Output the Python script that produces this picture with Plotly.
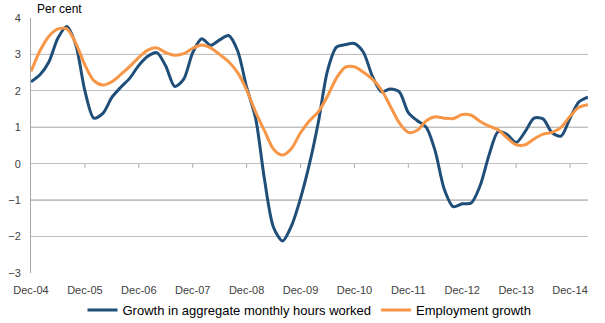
import plotly.graph_objects as go

# Months since Dec-2004 (bimonthly readings)
months = list(range(0, 125, 2))

hours_growth = [2.25, 2.44, 2.80, 3.45, 3.77, 3.25, 2.00, 1.25, 1.38, 1.82,
                2.10, 2.35, 2.70, 2.95, 3.05, 2.68, 2.12, 2.32, 3.05, 3.43,
                3.25, 3.40, 3.52, 3.10, 2.10, 1.25, -0.45, -1.75, -2.12, -1.70,
                -0.95, 0.00, 1.16, 2.55, 3.20, 3.27, 3.30, 3.06, 2.40, 1.98,
                2.05, 1.97, 1.40, 1.18, 1.00, 0.34, -0.70, -1.18, -1.10, -1.08,
                -0.60, 0.25, 0.88, 0.80, 0.58, 0.88, 1.25, 1.23, 0.85, 0.76,
                1.25, 1.70, 1.83]

employment_growth = [2.53, 3.10, 3.50, 3.70, 3.70, 3.30, 2.71, 2.28, 2.16, 2.25,
                     2.45, 2.67, 2.92, 3.12, 3.18, 3.05, 2.98, 3.02, 3.17, 3.26,
                     3.18, 3.00, 2.80, 2.50, 2.03, 1.42, 0.90, 0.40, 0.24, 0.42,
                     0.85, 1.18, 1.43, 1.85, 2.35, 2.65, 2.66, 2.51, 2.32, 2.03,
                     1.58, 1.12, 0.86, 0.92, 1.18, 1.29, 1.25, 1.24, 1.35, 1.33,
                     1.16, 1.03, 0.93, 0.71, 0.52, 0.52, 0.68, 0.81, 0.86, 1.00,
                     1.30, 1.55, 1.62]

tick_months = list(range(0, 121, 12))
tick_labels = ["Dec-04", "Dec-05", "Dec-06", "Dec-07", "Dec-08", "Dec-09",
               "Dec-10", "Dec-11", "Dec-12", "Dec-13", "Dec-14"]
y_ticks = [-3, -2, -1, 0, 1, 2, 3, 4]
dark_grid = [3, 1, -1]

FONT = "Liberation Sans"

fig = go.Figure()
fig.add_trace(go.Scatter(x=months, y=hours_growth, mode="lines",
                         name="Growth in aggregate monthly hours worked",
                         line=dict(color="#1F4E79", width=3, shape="spline", smoothing=0.8)))
fig.add_trace(go.Scatter(x=months, y=employment_growth, mode="lines",
                         name="Employment growth",
                         line=dict(color="#F79646", width=3, shape="spline", smoothing=0.8)))

shapes = []
for g in dark_grid:
    shapes.append(dict(type="line", xref="paper", yref="y", x0=0, x1=1, y0=g, y1=g,
                       line=dict(color="#808080", width=1), layer="below"))
for t in tick_months[1:]:
    shapes.append(dict(type="line", xref="x", yref="y", ysizemode="pixel", yanchor=0,
                       x0=t, x1=t, y0=0, y1=-4, line=dict(color="#A6A6A6", width=1),
                       layer="below"))

fig.update_layout(
    width=605, height=323,
    margin=dict(l=31, r=17, t=18, b=50, autoexpand=False),
    paper_bgcolor="white", plot_bgcolor="white",
    font=dict(family=FONT, size=11, color="#404040"),
    showlegend=True,
    legend=dict(orientation="h", x=0.5, xanchor="center", y=-0.145, yanchor="middle",
                font=dict(family=FONT, size=13, color="#000000"),
                itemwidth=30, tracegroupgap=0),
    shapes=shapes,
    annotations=[dict(text="Per cent", xref="paper", yref="paper", x=0.0, y=1.0,
                      xanchor="left", yanchor="bottom", showarrow=False, xshift=4,
                      font=dict(family=FONT, size=12, color="#000000"))],
)
fig.update_xaxes(range=[0, 124], tickvals=tick_months, ticktext=tick_labels,
                 showgrid=False, zeroline=False, showline=False, ticks="",
                 ticklabelstandoff=9,
                 automargin=False, tickfont=dict(size=11, color="#404040"))
fig.update_yaxes(range=[-3, 4], tickvals=y_ticks, showgrid=True, gridcolor="#C0C0C0",
                 gridwidth=1, zeroline=False, showline=True, linecolor="#A6A6A6",
                 linewidth=1, ticks="", ticklen=0, automargin=False,
                 ticklabelstandoff=7,
                 tickfont=dict(size=11, color="#404040"))

fig.write_html("out.html")
